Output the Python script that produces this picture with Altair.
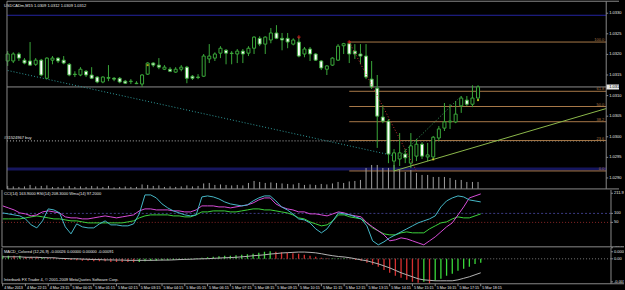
import altair as alt
import pandas as pd

# ---------------- data ----------------
BASE = 1.0280  # prices below are pips above this base

open_pips = [38.4, 38.4, 40.1, 38.6, 38.4, 37.6, 38.6, 34.2, 38.6, 39.1,
             38.6, 37.6, 35.2, 35.0, 35.9, 35.0, 34.5, 33.3, 34.2, 34.2,
             34.2, 33.5, 33.4, 33.0, 32.8, 35.2, 37.9, 37.4, 36.4, 36.4,
             35.7, 36.4, 36.9, 34.7, 34.5, 34.7, 38.9, 39.1, 40.3, 41.0,
             40.3, 40.1, 40.8, 40.3, 41.5, 43.9, 42.5, 43.5, 45.2, 43.9,
             43.9, 42.5, 43.0, 40.1, 41.3, 40.1, 38.4, 36.4, 37.4, 38.6,
             42.1, 42.6, 40.8, 40.1, 39.6, 34.0, 31.8, 24.8, 23.8, 14.1,
             14.6, 15.8, 13.6, 15.3, 18.2, 15.1, 15.1, 19.7, 22.1, 23.6,
             23.6, 27.5, 28.9, 27.9, 29.4]
high_pips = [40.8, 40.5, 40.5, 39.1, 43.0, 39.1, 38.9, 39.3, 39.6, 39.3,
             39.6, 37.9, 35.9, 36.9, 36.2, 36.9, 34.7, 34.7, 37.4, 34.5,
             34.5, 33.8, 34.0, 33.5, 35.2, 38.1, 38.1, 39.1, 37.4, 36.9,
             36.9, 37.4, 37.2, 35.0, 35.2, 40.1, 42.5, 40.5, 42.0, 41.3,
             40.8, 41.3, 41.3, 42.0, 44.4, 44.4, 44.4, 46.4, 47.1, 45.2,
             45.2, 43.9, 44.2, 41.8, 41.8, 40.3, 38.6, 37.4, 39.3, 42.5,
             42.8, 43.0, 42.5, 42.5, 42.5, 38.4, 35.0, 27.7, 24.3, 17.0,
             20.9, 17.0, 20.9, 19.5, 18.7, 18.5, 20.2, 22.6, 28.2, 27.9,
             28.7, 29.9, 29.9, 32.5, 32.5]
low_pips = [37.2, 37.9, 38.4, 37.6, 37.2, 37.2, 34.7, 34.0, 37.6, 37.9,
            37.6, 34.7, 34.5, 34.7, 34.5, 34.0, 33.0, 33.0, 33.5, 33.5,
            33.0, 32.8, 32.8, 32.8, 32.1, 35.0, 36.9, 36.4, 36.2, 35.7,
            35.5, 35.9, 33.0, 33.8, 34.0, 34.5, 37.9, 38.4, 39.1, 37.6,
            37.6, 37.9, 37.9, 39.6, 40.1, 42.0, 40.1, 42.7, 43.7, 41.0,
            41.5, 42.2, 39.3, 39.3, 38.4, 38.4, 36.2, 35.0, 37.2, 38.4,
            40.1, 37.9, 38.9, 37.6, 34.0, 31.6, 17.3, 23.3, 13.6, 11.7,
            12.9, 13.6, 12.4, 14.1, 14.6, 14.1, 14.5, 19.0, 21.4, 21.9,
            23.3, 25.8, 27.5, 27.2, 28.7]
close_pips = [40.1, 40.1, 39.1, 37.9, 37.4, 38.6, 35.0, 39.1, 39.1, 38.4,
              37.9, 35.0, 35.1, 36.4, 35.0, 34.2, 33.3, 34.5, 34.4, 34.0,
              33.3, 33.0, 33.5, 32.9, 35.0, 37.9, 37.4, 36.9, 36.9, 35.9,
              36.4, 36.9, 34.2, 34.2, 34.4, 39.6, 39.6, 40.1, 41.5, 40.3,
              40.2, 40.8, 40.1, 41.5, 44.2, 42.5, 44.2, 45.2, 43.9, 43.5,
              43.0, 43.5, 39.6, 41.3, 40.1, 38.6, 36.7, 37.2, 39.1, 42.0,
              42.6, 40.1, 40.1, 39.6, 34.5, 32.1, 25.0, 23.8, 15.8, 16.1,
              16.1, 14.9, 17.8, 18.2, 15.3, 15.6, 19.9, 21.9, 23.6, 23.8,
              25.5, 29.4, 27.9, 29.4, 32.1]
volume = [30, 25, 20, 25, 40, 25, 30, 35, 20, 20,
          25, 30, 20, 25, 20, 30, 25, 20, 30, 15,
          20, 25, 20, 20, 45, 40, 30, 35, 20, 25,
          20, 25, 35, 25, 30, 55, 60, 40, 45, 40,
          35, 40, 35, 60, 80, 70, 60, 65, 60, 55,
          50, 45, 60, 40, 45, 40, 50, 45, 55, 70,
          60, 75, 80, 90, 210, 240, 240, 210, 210, 240,
          190, 170, 190, 160, 140, 140, 120, 120, 120, 110,
          90, 90, 70, 70, 70]
cci_vals = [102.8, 97.2, 91.7, 86.1, 69.4, 36.1, 19.4, 58.3, 125.0, 119.4,
            102.8, 25.0, -13.9, 41.7, 25.0, 19.4, 19.4, 41.7, 58.3, 36.1,
            36.1, 30.6, 30.6, 41.7, 97.2, 202.8, 202.8, 186.1, 152.8, 130.6,
            113.9, 102.8, 91.7, 86.1, 91.7, 191.7, 197.2, 191.7, 180.6, 163.9,
            152.8, 147.2, 141.7, 147.2, 169.5, 186.1, 197.2, 197.2, 169.5, 136.1,
            119.4, 97.2, 69.4, 63.9, 47.2, 13.9, -8.3, 13.9, 58.3, 102.8,
            97.2, 91.7, 80.6, 69.4, 30.6, -52.8, -75.0, -58.3, -36.1, -19.4,
            -2.8, 13.9, 30.6, 47.2, 58.3, 69.4, 86.1, 136.1, 169.5, 186.1,
            197.2, 191.7, 175.0, 169.5, 163.9]
rsi_vals = [141.7, 130.6, 119.4, 102.8, 97.2, 86.1, 91.7, 108.3, 113.9, 108.3,
            102.8, 80.6, 75.0, 75.0, 69.4, 69.4, 75.0, 80.6, 86.1, 80.6,
            75.0, 80.6, 86.1, 91.7, 113.9, 125.0, 125.0, 119.4, 119.4, 119.4,
            113.9, 113.9, 108.3, 108.3, 119.4, 141.7, 141.7, 141.7, 136.1, 136.1,
            130.6, 136.1, 141.7, 147.2, 158.3, 175.0, 186.1, 186.1, 152.8, 136.1,
            125.0, 119.4, 108.3, 108.3, 97.2, 97.2, 91.7, 86.1, 97.2, 108.3,
            102.8, 91.7, 86.1, 80.6, 47.2, 25.0, 2.8, -19.4, -52.8, -47.2,
            -36.1, -41.7, -52.8, -63.9, -75.0, -52.8, -30.6, -2.8, 25.0, 47.2,
            91.7, 136.1, 186.1, 197.2, 208.3]
wma_vals = [69.4, 69.4, 69.4, 69.4, 75.0, 80.6, 86.1, 80.6, 75.0, 69.4,
            69.4, 63.9, 58.3, 58.3, 52.8, 47.2, 47.2, 47.2, 47.2, 47.2,
            47.2, 47.2, 52.8, 58.3, 75.0, 86.1, 91.7, 91.7, 91.7, 91.7,
            86.1, 86.1, 80.6, 80.6, 91.7, 108.3, 108.3, 113.9, 113.9, 113.9,
            108.3, 108.3, 113.9, 119.4, 125.0, 125.0, 119.4, 119.4, 113.9, 108.3,
            102.8, 91.7, 75.0, 69.4, 52.8, 41.7, 30.6, 36.1, 58.3, 91.7,
            91.7, 80.6, 75.0, 69.4, 47.2, 19.4, 2.8, -13.9, -19.4, -19.4,
            -8.3, -2.8, -8.3, -8.3, -8.3, 13.9, 30.6, 47.2, 52.8, 69.4,
            80.6, 75.0, 75.0, 86.1, 97.2]
macd_hist = [0.00020, 0.00020, 0.00020, 0.00020, 0.00013, 0.00013, 0.00013, 0.00007, 0.00007, 0.00007,
             0.00003, -0.00007, -0.00007, -0.00010, -0.00013, -0.00013, -0.00016, -0.00016, -0.00016, -0.00020,
             -0.00020, -0.00020, -0.00020, -0.00023, -0.00020, -0.00016, -0.00013, -0.00013, -0.00010, -0.00010,
             -0.00007, -0.00007, -0.00003, -0.00003, 0.00003, 0.00007, 0.00010, 0.00013, 0.00016, 0.00020,
             0.00020, 0.00023, 0.00026, 0.00029, 0.00033, 0.00039, 0.00046, 0.00049, 0.00046, 0.00042,
             0.00039, 0.00036, 0.00033, 0.00026, 0.00020, 0.00013, 0.00007, 0.00003, 0.00003, 0.00003,
             0.00003, 0.00002, -0.00007, -0.00013, -0.00026, -0.00039, -0.00052, -0.00072, -0.00091, -0.00111,
             -0.00124, -0.00137, -0.00150, -0.00156, -0.00150, -0.00163, -0.00143, -0.00130, -0.00111, -0.00098,
             -0.00078, -0.00065, -0.00052, -0.00033, -0.00026]
macd_up = list("GGRGRRRGRR" "RRRRRRRRRR" "RRRRGGGGGG" "GGGGGGGGGG" "GGGGGGGGRR"
               "RRRRRRRRGG" "GRRRRRRRRR" "RRRRGRGGGG" "GGGGG")
macd_signal = [0.00013, 0.00013, 0.00013, 0.00013, 0.00010, 0.00010, 0.00010, 0.00008, 0.00007, 0.00007,
               0.00003, 0.00002, 0.0, 0.0, -0.00002, -0.00003, -0.00005, -0.00005, -0.00007, -0.00007,
               -0.00008, -0.00008, -0.00010, -0.00010, -0.00010, -0.00010, -0.00010, -0.00009, -0.00008, -0.00008,
               -0.00007, -0.00005, -0.00004, -0.00003, -0.00001, 0.0, 0.00001, 0.00003, 0.00005, 0.00007,
               0.00008, 0.00010, 0.00013, 0.00016, 0.00020, 0.00023, 0.00026, 0.00031, 0.00034, 0.00038,
               0.00040, 0.00042, 0.00044, 0.00044, 0.00042, 0.00039, 0.00033, 0.00026, 0.00020, 0.00015,
               0.00012, 0.00007, 0.0, -0.00007, -0.00013, -0.00023, -0.00033, -0.00046, -0.00059, -0.00075,
               -0.00091, -0.00104, -0.00117, -0.00130, -0.00137, -0.00140, -0.00143, -0.00143, -0.00143, -0.00143,
               -0.00137, -0.00127, -0.00117, -0.00104, -0.00091]
time_labels = ['4 Mar 2013', '4 Mar 22:15', '4 Mar 23:15', '5 Mar 00:15', '5 Mar 01:15',
               '5 Mar 02:15', '5 Mar 03:15', '5 Mar 04:15', '5 Mar 05:15', '5 Mar 06:15',
               '5 Mar 07:15', '5 Mar 08:15', '5 Mar 09:15', '5 Mar 10:15', '5 Mar 11:15',
               '5 Mar 12:15', '5 Mar 13:15', '5 Mar 14:15', '5 Mar 15:15', '5 Mar 16:15',
               '5 Mar 17:15', '5 Mar 18:15']
BARS_PER_LABEL = 4
price_ticks = [1.0330, 1.0325, 1.0320, 1.0315, 1.0310, 1.0305, 1.0300, 1.0295, 1.0290]
fib_ratios = [0.0, 23.6, 38.2, 50.0, 61.8, 100.0]
FIB_HIGH_BAR, FIB_LOW_BAR, FIB_END_BAR = 61, 69, 73
TREND_A, TREND_B = 69, 76
blue_levels = [1.03295, 1.02922]
order_price = 1.02990
order_label = "#31524967 buy"
teal_line = [(0, 1.03161), (69, 1.02954)]
dotted_green = [(70, 1.02953), (81, 1.03099)]
fractal_bars = [52, 61]
dot_points = [(25, 1.03174), (76, 1.02945), (84, 1.03089)]
osc_levels = [(211.977, '211.977'), (100, '100'), (50, '50'), (-91.173, '-91.173')]
macd_levels = [(0.00046, '0.00065'), (0.0, '0.00'), (-0.00150, '-0.00155')]

# ---------------- layout constants ----------------
W = 623
H1, H2, H3, H4 = 188, 57, 36, 6
X_DOM = [-0.1228, 109.175]
X_AX = 106.89
Y1_DOM = [BASE + 7.338 / 1e4, BASE + 52.909 / 1e4]
Y2_DOM = [-86.1, 230.6]
Y3_DOM = [-0.001625, 0.000715]
FONT = "Liberation Sans"
FS = 4
TXT = "#e6e6e6"
GRAY = "#8a8a8a"
CANDLE = "#3aa83a"
FIB = "#a87848"

XS = alt.Scale(domain=X_DOM, nice=False, zero=False)
Y1S = alt.Scale(domain=Y1_DOM, nice=False, zero=False)
Y2S = alt.Scale(domain=Y2_DOM, nice=False, zero=False)
Y3S = alt.Scale(domain=Y3_DOM, nice=False, zero=False)


def price(p):
    return round(BASE + p / 10000.0, 6)


def xq(f="i", axis=None):
    return alt.X(f + ":Q", scale=XS, axis=axis)


def yq(f, sc):
    return alt.Y(f + ":Q", scale=sc, axis=None)


def hrules(values, sc, color, width=1.0, dash=None, x0=None, x1=X_AX, clip=True):
    x0 = X_DOM[0] if x0 is None else x0
    d = pd.DataFrame({"y": values, "x0": [x0] * len(values), "x1": [x1] * len(values)})
    kw = dict(color=color, strokeWidth=width, clip=clip)
    if dash:
        kw["strokeDash"] = dash
    return alt.Chart(d).mark_rule(**kw).encode(x=xq("x0"), x2="x1:Q", y=yq("y", sc))


def vrule(xv, color=GRAY):
    return alt.Chart(pd.DataFrame({"x": [xv]})).mark_rule(color=color, strokeWidth=1).encode(x=xq("x"))


def seg(points, sc, color, width=1.0, dash=None):
    d = pd.DataFrame(points, columns=["x", "y"])
    kw = dict(color=color, strokeWidth=width, clip=True)
    if dash:
        kw["strokeDash"] = dash
    return alt.Chart(d).mark_line(**kw).encode(x=xq("x"), y=yq("y", sc))


def rlabels(levels, sc):
    d = pd.DataFrame({"y": [v for v, _ in levels], "t": [t for _, t in levels]})
    d["x"] = X_AX
    d["x1"] = X_AX + 0.35
    ticks = alt.Chart(d).mark_rule(color=GRAY).encode(x=xq("x"), x2="x1:Q", y=yq("y", sc))
    labs = alt.Chart(d).mark_text(align="left", baseline="middle", dx=3, fontSize=FS, font=FONT,
                                  color=TXT, clip=True).encode(x=xq("x"), y=yq("y", sc), text="t:N")
    return [ticks, labs]


def ptext(t, x, y, color=TXT, baseline="top"):
    return alt.Chart(pd.DataFrame({"t": [t]})).mark_text(
        align="left", baseline=baseline, fontSize=FS, font=FONT, color=color
    ).encode(x=alt.value(x), y=alt.value(y), text="t:N")


# ---------------- main price panel ----------------
N = len(close_pips)
cdf = pd.DataFrame({
    "i": list(range(N)),
    "o": [price(v) for v in open_pips],
    "h": [price(v) for v in high_pips],
    "l": [price(v) for v in low_pips],
    "c": [price(v) for v in close_pips],
    "vol": volume,
})
cdf["zero"] = 0
cdf["fill"] = ["#000000" if c >= o else "#ffffff" for o, c in zip(cdf["o"], cdf["c"])]

hi = cdf["h"][FIB_HIGH_BAR]
lo = cdf["l"][FIB_LOW_BAR]
fib_prices = [lo + (hi - lo) * r / 100.0 for r in fib_ratios]
last = cdf.iloc[-1]
title1 = "USDCADm,M15  %.4f %.4f %.4f %.4f" % (last["o"], last["h"], last["l"], last["c"])

# trend line through two lows, extended to the price axis
ta, tb = cdf["l"][TREND_A], cdf["l"][TREND_B]
slope = (tb - ta) / (TREND_B - TREND_A)
trend_pts = [(TREND_A, ta), (X_AX, ta + slope * (X_AX - TREND_A))]

wicks = alt.Chart(cdf).mark_rule(color=CANDLE, strokeWidth=1).encode(
    x=xq("i"), y=yq("l", Y1S), y2="h:Q")
bodies = alt.Chart(cdf).mark_bar(size=3, stroke=CANDLE, strokeWidth=1).encode(
    x=xq("i"), y=yq("o", Y1S), y2="c:Q", fill=alt.Fill("fill:N", scale=None))
vol = alt.Chart(cdf).mark_rule(color="#a0a0a0", strokeWidth=1).encode(
    x=xq("i"), y=alt.Y("vol:Q", scale=alt.Scale(domain=[0, 1880], nice=False), axis=None), y2="zero:Q")

fdf = pd.DataFrame({"i": fractal_bars, "p": [cdf["h"][b] for b in fractal_bars]})
fract = alt.Chart(fdf).mark_point(shape="cross", size=12, filled=True, color="#e02020").encode(
    x=xq("i"), y=yq("p", Y1S))
ddf = pd.DataFrame(dot_points, columns=["i", "p"])
dots = alt.Chart(ddf).mark_square(size=4, color="#f0e020").encode(x=xq("i"), y=yq("p", Y1S))

fib_df = pd.DataFrame({"y": fib_prices, "t": ["%.1f" % r for r in fib_ratios], "x": X_AX})
fib_labels = alt.Chart(fib_df).mark_text(align="right", baseline="bottom", dx=-2, dy=0, fontSize=FS,
                                         font=FONT, color=FIB).encode(x=xq("x"), y=yq("y", Y1S), text="t:N")
order_df = pd.DataFrame({"y": [order_price], "t": [order_label]})
order_lab = alt.Chart(order_df).mark_text(align="left", baseline="bottom", dy=-0.5, fontSize=FS,
                                          font=FONT, color=TXT).encode(x=alt.value(2), y=yq("y", Y1S), text="t:N")

cur_df = pd.DataFrame({"y": [last["c"]], "t": ["%.4f" % last["c"]], "x0": [X_AX], "x1": [X_DOM[1]]})
cur_box = alt.Chart(cur_df).mark_rule(color="#e8e8e8", strokeWidth=5, clip=True).encode(
    x=xq("x0"), x2="x1:Q", y=yq("y", Y1S))
cur_txt = alt.Chart(cur_df).mark_text(align="left", baseline="middle", dx=3, fontSize=FS, font=FONT,
                                      color="#000000", clip=True).encode(x=xq("x0"), y=yq("y", Y1S), text="t:N")

main_layers = [
    hrules([blue_levels[0]], Y1S, "#2424a0", 1),
    hrules([blue_levels[1]], Y1S, "#16165e", 3),
    hrules([order_price], Y1S, "#b8b8b8", 1, [1, 2]),
    hrules(fib_prices, Y1S, FIB, 1, x0=FIB_HIGH_BAR),
    hrules([last["c"]], Y1S, "#8c8c8c", 1),
    vol,
    seg(teal_line, Y1S, "#2f9a9a", 1, [1, 2]),
    wicks,
    bodies,
    seg([(FIB_HIGH_BAR, hi), (FIB_END_BAR, lo)], Y1S, "#c03030", 1, [1, 2]),
    seg(trend_pts, Y1S, "#8cb84a", 1),
    seg(dotted_green, Y1S, "#3c9c5c", 1, [1, 2]),
    fract,
    dots,
    fib_labels,
    order_lab,
    ptext(title1, 2, 2.5),
] + rlabels([(p, "%.4f" % p) for p in price_ticks], Y1S) + [
    cur_box,
    cur_txt,
    vrule(X_DOM[0]),
    vrule(X_AX),
    hrules([Y1_DOM[1]], Y1S, GRAY, 1, x1=X_DOM[1], clip=False),
    hrules([Y1_DOM[0]], Y1S, GRAY, 1, x1=X_DOM[1], clip=False),
]
panel1 = alt.layer(*main_layers).resolve_scale(y="independent").properties(width=W, height=H1)

# ---------------- oscillator panel ----------------
odf = pd.DataFrame({"i": list(range(N)), "cci": cci_vals, "rsi": rsi_vals, "wma": wma_vals})
title2 = "CCI(14) %.4f  RSI(14) %.4f  Wma(14) %.4f" % (cci_vals[-1], rsi_vals[-1], wma_vals[-1])
p2_layers = [
    hrules([100], Y2S, "#3c3c86", 1, [2, 2]),
    hrules([50], Y2S, "#8a2626", 1, [1, 2]),
    alt.Chart(odf).mark_line(color="#3cd23c", strokeWidth=1, clip=True).encode(x=xq("i"), y=yq("wma", Y2S)),
    alt.Chart(odf).mark_line(color="#d84cd8", strokeWidth=1, clip=True).encode(x=xq("i"), y=yq("rsi", Y2S)),
    alt.Chart(odf).mark_line(color="#45b8c8", strokeWidth=1, clip=True).encode(x=xq("i"), y=yq("cci", Y2S)),
    ptext(title2, 2, 2.5),
] + rlabels(osc_levels, Y2S) + [
    vrule(X_DOM[0]),
    vrule(X_AX),
    hrules([Y2_DOM[0]], Y2S, GRAY, 1, x1=X_DOM[1], clip=False),
]
panel2 = alt.layer(*p2_layers).properties(width=W, height=H2)

# ---------------- MACD panel ----------------
mdf = pd.DataFrame({"i": list(range(N)), "h": macd_hist, "s": macd_signal,
                    "col": ["#3ad83a" if u == "G" else "#d83030" for u in macd_up]})
mdf["zero"] = 0.0
title3 = "MACD_Colored (12,26,9) %.5f %.5f %.5f %.5f" % (macd_hist[-1], 0.0, 0.0, macd_signal[-1])
p3_layers = [
    hrules([0.0], Y3S, "#7a7a7a", 1, [1, 2]),
    alt.Chart(mdf).mark_rule(strokeWidth=1.3, clip=True).encode(
        x=xq("i"), y=yq("h", Y3S), y2="zero:Q", color=alt.Color("col:N", scale=None)),
    alt.Chart(mdf).mark_line(color="#b4b4b4", strokeWidth=1, clip=True).encode(x=xq("i"), y=yq("s", Y3S)),
    ptext(title3, 2, 2),
    ptext("Interbank FX Trader 4, \u00a9 2001-2009 MetaQuotes Software Corp.", 2, 30.5),
] + rlabels(macd_levels, Y3S) + [
    vrule(X_DOM[0]),
    vrule(X_AX),
    hrules([Y3_DOM[0]], Y3S, GRAY, 1, x1=X_DOM[1], clip=False),
]
panel3 = alt.layer(*p3_layers).properties(width=W, height=H3)

# ---------------- time scale strip ----------------
tdf = pd.DataFrame({"i": [BARS_PER_LABEL * k for k in range(len(time_labels))], "t": time_labels})
tick_marks = alt.Chart(tdf).mark_rule(color=GRAY, strokeWidth=1).encode(
    x=xq("i"), y=alt.value(-1), y2=alt.value(1.5))
tick_text = alt.Chart(tdf).mark_text(align="left", baseline="top", dx=1.5, fontSize=3.7, font=FONT,
                                     color="#f0f0f0", clip=True).encode(x=xq("i"), y=alt.value(1), text="t:N")
panel4 = alt.layer(tick_marks, tick_text).properties(width=W, height=H4)

chart = alt.vconcat(panel1, panel2, panel3, panel4, spacing=1, bounds="flush").properties(
    background="#000000",
    padding={"left": 1, "top": 0, "right": 0, "bottom": 0},
).configure_view(strokeWidth=0)

chart.save("out.html", embed_options={"renderer": "svg", "actions": False})
